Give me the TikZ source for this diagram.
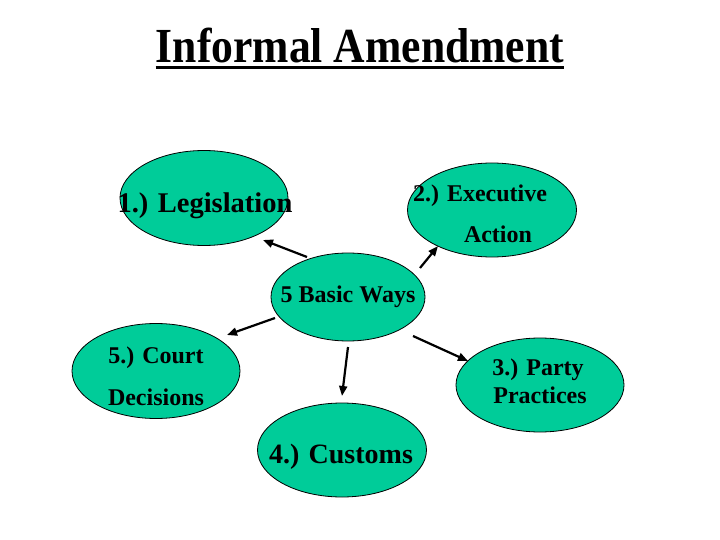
\documentclass[tikz,border=0pt]{standalone}
\usepackage{fontspec}
\setmainfont{Liberation Serif}
\newfontfamily\titlefont[FakeStretch=0.89]{Liberation Serif}
\usetikzlibrary{shapes.geometric,arrows.meta}
\definecolor{teal}{HTML}{00CC99}
\tikzset{
  oval/.style={ellipse, draw=black, line width=0.8pt, fill=teal, inner sep=0pt, minimum width=168pt, minimum height=95pt},
  lbl/.style={anchor=base, inner sep=0pt, font=\bfseries\fontsize{24}{24}\selectfont},
  biglbl/.style={anchor=base, inner sep=0pt, font=\bfseries\fontsize{28.5}{28.5}\selectfont},
  conn/.style={line width=2.2pt, -{Triangle[length=10pt,width=8pt]}}
}
\begin{document}
\begin{tikzpicture}[x=1pt,y=-1pt]
\useasboundingbox (0,0) rectangle (720,540);
\fill[white] (0,0) rectangle (720,540);
% title
\node[anchor=base, inner sep=0pt, font=\titlefont\bfseries\fontsize{49}{49}\selectfont] (title) at (360,63) {Informal Amendment};
\draw[line width=3pt] (title.base west) ++(0,4.5) coordinate (ul1) -- (title.base east |- ul1);
% ovals
\node[oval] (leg) at (204,198) {};
\node[oval, minimum width=169pt, minimum height=94pt] (exe) at (492,210) {};
\node[oval, minimum width=154pt, minimum height=88pt] (ways) at (348,297) {};
\node[oval] (court) at (156,371) {};
\node[oval, minimum height=94pt] (party) at (540,385) {};
\node[oval, minimum width=169pt, minimum height=94pt] (cust) at (342,450) {};
% texts
\node[biglbl] (tleg) at (205,212) {1.) Legislation};
\node[lbl] (texe) at (480,202) {2.) Executive};
\node[lbl] (tact) at (498,243) {Action};
\node[lbl] (tways) at (348,302) {5 Basic Ways};
\node[lbl] (tcourt) at (156,363) {5.) Court};
\node[lbl] (tdec) at (156,405) {Decisions};
\node[lbl] (tparty) at (538,375) {3.) Party};
\node[lbl] (tprac) at (540,403) {Practices};
\node[biglbl, font=\bfseries\fontsize{28}{28}\selectfont] (tcust) at (341,463) {4.) Customs};
% connector end points
\coordinate (a1s) at (307,257); \coordinate (a1e) at (263,240);
\coordinate (a2s) at (420,268); \coordinate (a2e) at (438,246);
\coordinate (a3s) at (275,318); \coordinate (a3e) at (227,335);
\coordinate (a4s) at (348,347); \coordinate (a4e) at (342,396);
\coordinate (a5s) at (413,336); \coordinate (a5e) at (468,361);
\draw[conn] (a1s) -- (a1e);
\draw[conn] (a2s) -- (a2e);
\draw[conn] (a3s) -- (a3e);
\draw[conn] (a4s) -- (a4e);
\draw[conn] (a5s) -- (a5e);
\end{tikzpicture}
\end{document}
